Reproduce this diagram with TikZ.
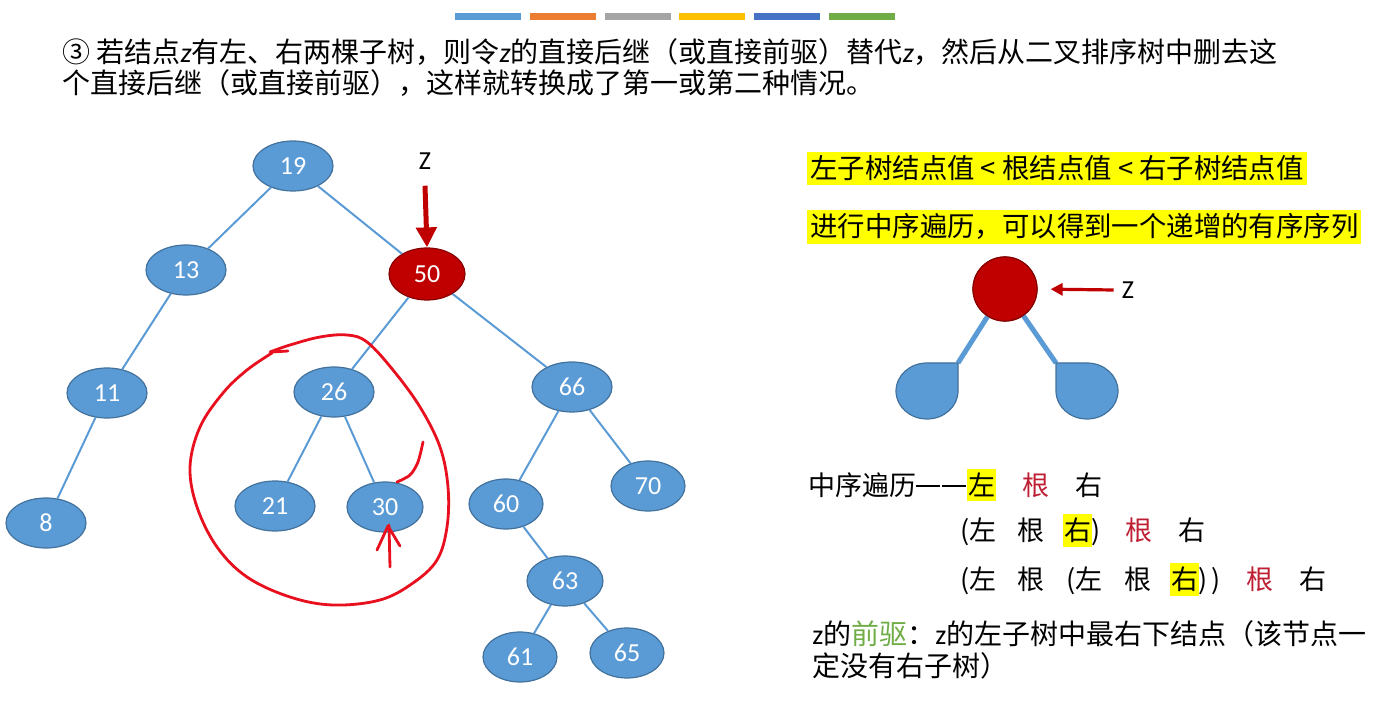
\documentclass[tikz,border=0pt]{standalone}
\usepackage{fontspec}
\setmainfont{Noto Sans CJK SC}
\newfontfamily\numfont{Carlito}
\usetikzlibrary{shapes.geometric, arrows.meta, positioning, calc}
\definecolor{nodeblue}{RGB}{91,155,213}
\definecolor{nodeedge}{RGB}{65,113,156}
\definecolor{zred}{RGB}{192,0,0}
\definecolor{penred}{RGB}{232,16,30}
\definecolor{rootred}{RGB}{190,30,50}
\definecolor{hlyellow}{RGB}{255,255,0}
\definecolor{pregreen}{RGB}{112,173,71}
\definecolor{barblue}{RGB}{91,155,213}
\definecolor{barorange}{RGB}{237,125,49}
\definecolor{bargray}{RGB}{165,165,165}
\definecolor{baryellow}{RGB}{255,192,0}
\definecolor{bardarkblue}{RGB}{68,114,196}
\definecolor{bargreen}{RGB}{112,173,71}
\newcommand{\bodyfont}{\fontsize{13.5pt}{16pt}\selectfont}
\newcommand{\zit}{{\numfont\itshape z}}

\begin{document}
\begin{tikzpicture}[
    x=0.5pt, y=-0.5pt,
    key/.style={ellipse, draw=nodeedge, line width=0.6pt, fill=nodeblue, minimum width=40pt, minimum height=25pt, inner sep=0pt, text=white, font=\numfont\fontsize{13pt}{14pt}\selectfont},
    zkey/.style={key, fill=zred, draw=zred!70!black, minimum width=38pt, minimum height=26pt},
    link/.style={draw=nodeblue, line width=1pt},
    txt/.style={anchor=base west, inner sep=0pt, font=\bodyfont},
    hl/.style={txt, fill=hlyellow, inner xsep=1.5pt, inner ysep=2pt},
    pen/.style={draw=penred, line width=1.4pt, line cap=round, line join=round},
    zarrow/.style={draw=zred, line width=2.5pt, -{Triangle[width=10pt, length=10pt]}}
]
    \useasboundingbox (0,0) rectangle (1383,705);

    % colour bars
    \foreach \c [count=\i from 0] in {barblue, barorange, bargray, baryellow, bardarkblue, bargreen}
        \fill[\c] (455+\i*74.8,13) rectangle ++(66,7);

    % heading
    \node[txt, font=\fontsize{14pt}{16pt}\selectfont] (head1) at (62,63) {③ 若结点\zit 有左、右两棵子树，则令\zit 的直接后继（或直接前驱）替代\zit ，然后从二叉排序树中删去这};
    \node[txt, font=\fontsize{14pt}{16pt}\selectfont] (head2) at (62,94) {个直接后继（或直接前驱），这样就转换成了第一或第二种情况。};

    % tree
    \node[key] (n19) at (293,166) {19};
    \node[key] (n13) at (186,270) {13};
    \node[zkey] (n50) at (427,274) {50};
    \node[key] (n11) at (107,393) {11};
    \node[key] (n8) at (46,523) {8};
    \node[key] (n26) at (334,392) {26};
    \node[key] (n66) at (572,387) {66};
    \node[key] (n21) at (275,506) {21};
    \node[key, minimum width=38pt] (n30) at (385,507) {30};
    \node[key, minimum width=37pt] (n70) at (648,486) {70};
    \node[key, minimum width=37pt] (n60) at (506,504) {60};
    \node[key, minimum width=38pt] (n63) at (565,581) {63};
    \node[key, minimum width=37pt] (n61) at (520,657) {61};
    \node[key, minimum width=37pt] (n65) at (627,653) {65};

    \draw[link] (n19) -- (n13);
    \draw[link] (n19) -- (n50);
    \draw[link] (n13) -- (n11);
    \draw[link] (n11) -- (n8);
    \draw[link] (n50) -- (n26);
    \draw[link] (n50) -- (n66);
    \draw[link] (n26) -- (n21);
    \draw[link] (n26) -- (n30);
    \draw[link] (n66) -- (n60);
    \draw[link] (n66) -- (n70);
    \draw[link] (n60) -- (n63);
    \draw[link] (n63) -- (n61);
    \draw[link] (n63) -- (n65);

    % z marker
    \node[font=\numfont\fontsize{13pt}{14pt}\selectfont, inner sep=0pt] (zlab) at (425,161) {Z};
    \draw[zarrow] ([yshift=-8pt]zlab.south) -- (n50.north);

    % hand-drawn marks
    \draw[pen] plot[smooth, tension=0.6] coordinates {(270,352) (290,345) (320,337) (347,335) (367,342) (393,370) (420,407) (440,447) (448,487) (447,527) (437,560) (413,583) (380,600) (333,605) (290,597) (247,577) (217,547) (197,507) (190,467) (200,427) (223,393) (247,370) (272,353)};
    \draw[pen] (272,352) -- (288,351);
    \draw[pen] plot[smooth] coordinates {(423,442) (418,462) (410,475) (397,482)};
    \draw[pen] (390,567) -- (389,525);
    \draw[pen] (377,550) -- (388,526) -- (400,546);

    % rules
    \node[hl, font=\fontsize{13.7pt}{16pt}\selectfont] (rule1) at (807,179) {左子树结点值 < 根结点值 < 右子树结点值};
    \node[hl, font=\fontsize{13.7pt}{16pt}\selectfont] (rule2) at (807,237) {进行中序遍历，可以得到一个递增的有序序列};

    % small tree
    \coordinate (lcorner) at (958,363);
    \coordinate (rcorner) at (1056,363);
    \node[circle, fill=zred, draw=zred!70!black, line width=0.6pt, minimum size=32pt, inner sep=0pt] (root) at (1005,289) {};
    \draw[draw=nodeblue, line width=2.5pt] (root) -- (lcorner);
    \draw[draw=nodeblue, line width=2.5pt] (root) -- (rcorner);
    \node[circle, fill=zred, draw=zred!70!black, line width=0.6pt, minimum size=32pt, inner sep=0pt] at (root) {};
    \draw[fill=nodeblue, draw=nodeedge, line width=0.6pt] (lcorner) -- (958,391) arc[start angle=0, end angle=-270, x radius=15.5pt, y radius=14pt] -- cycle;
    \draw[fill=nodeblue, draw=nodeedge, line width=0.6pt] (rcorner) -- (1087,363) arc[start angle=90, end angle=-180, x radius=15.5pt, y radius=14pt] -- cycle;
    \node[font=\numfont\fontsize{13pt}{14pt}\selectfont, inner sep=0pt] (zsmall) at (1128,290) {Z};
    \draw[draw=zred, line width=1.6pt, -{Triangle[width=6pt, length=6pt]}, shorten >=6.5pt] ([xshift=-4pt]zsmall.west) -- (root.east);

    % in-order lines
    \node[txt] (ord) at (808,496) {中序遍历\rule[4.6pt]{12pt}{0.7pt}\hspace{1pt}\rule[4.6pt]{12pt}{0.7pt}};
    \node[hl, inner xsep=0.5pt] (l1a) at (967,496) {左};
    \node[txt, text=rootred] (l1b) at (1022,496) {根};
    \node[txt] (l1c) at (1075,496) {右};

    \node[txt] (l2a) at (960,541) {(左};
    \node[txt] (l2b) at (1017,541) {根};
    \node[hl, inner xsep=0.5pt] (l2c) at (1063,541) {右};
    \node[txt] (l2d) at (1091,541) {)};
    \node[txt, text=rootred] (l2e) at (1125,541) {根};
    \node[txt] (l2f) at (1178,541) {右};

    \node[txt] (l3a) at (960,590) {(左};
    \node[txt] (l3b) at (1017,590) {根};
    \node[txt] (l3c) at (1066,590) {(左};
    \node[txt] (l3d) at (1124,590) {根};
    \node[hl, inner xsep=0.5pt] (l3e) at (1170,590) {右};
    \node[txt] (l3f) at (1198,590) {)\hspace{2pt})};
    \node[txt, text=rootred] (l3g) at (1246,590) {根};
    \node[txt] (l3h) at (1299,590) {右};

    \node[txt, font=\fontsize{14pt}{16pt}\selectfont] (pre1) at (812,645) {{\numfont z}的\textcolor{pregreen}{前驱}：{\numfont z}的左子树中最右下结点（该节点一};
    \node[txt, font=\fontsize{14pt}{16pt}\selectfont] (pre2) at (812,677) {定没有右子树）};
\end{tikzpicture}
\end{document}
